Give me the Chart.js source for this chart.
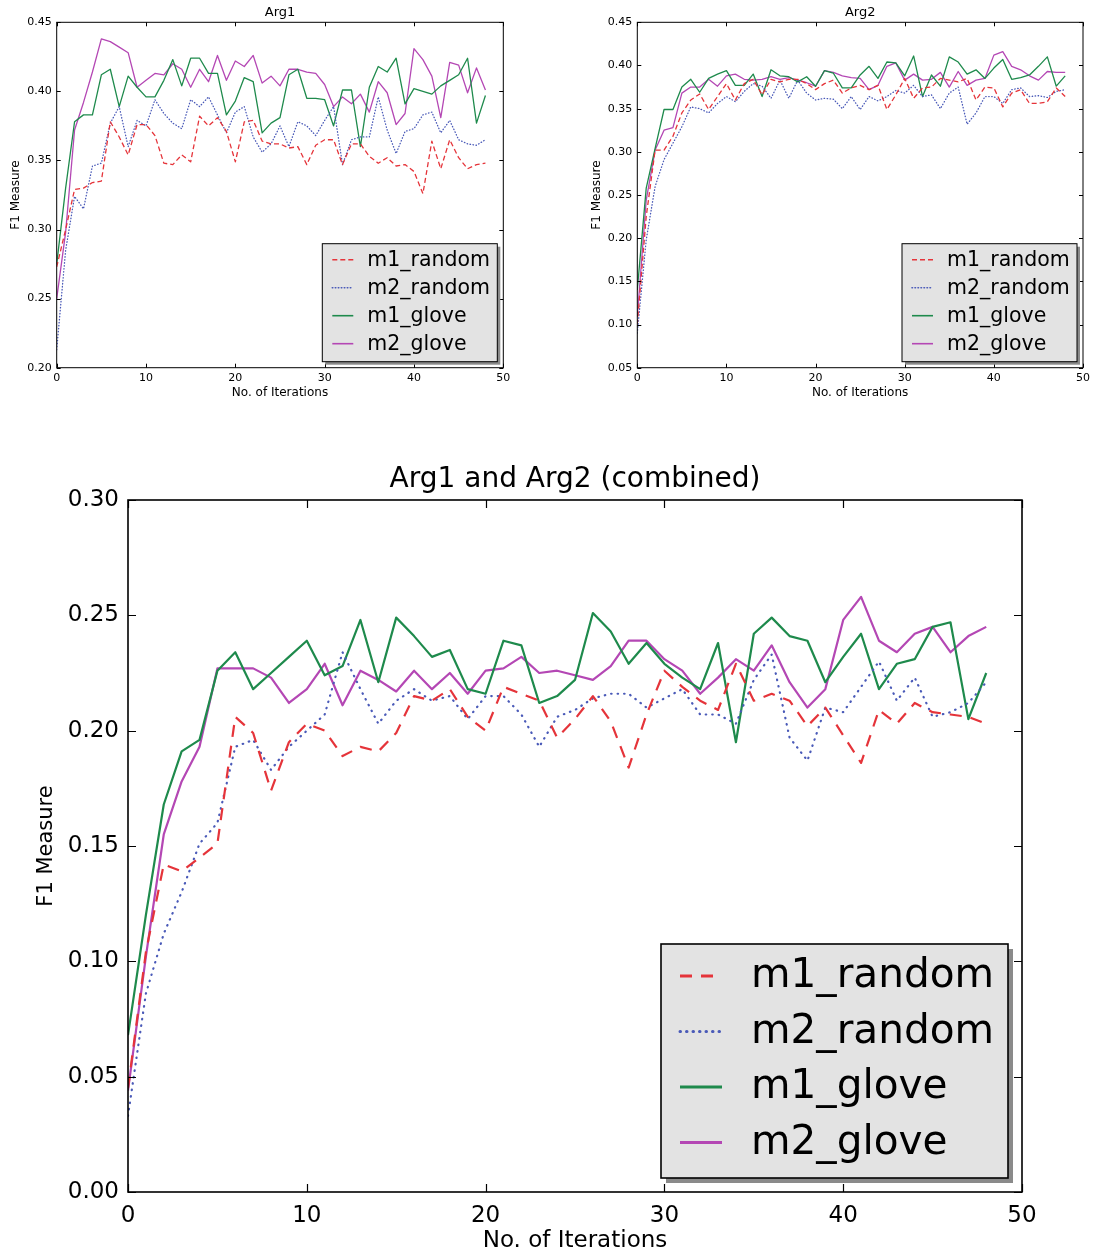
<!DOCTYPE html>
<html>
<head>
<meta charset="utf-8">
<title>F1 Measure vs. iterations</title>
<script src="https://cdn.jsdelivr.net/npm/chart.js@4.4.1/dist/chart.umd.min.js"></script>
<style>
  body { margin: 0; background: #fff; }
  .wrap { position: absolute; }
</style>
</head>
<body>
<div class="wrap" style="left:0;top:0;width:520px;height:405px"><canvas id="arg1Chart"></canvas></div>
<div class="wrap" style="left:580px;top:0;width:514px;height:405px"><canvas id="arg2Chart"></canvas></div>
<div class="wrap" style="left:0;top:440px;width:1094px;height:816px"><canvas id="combinedChart"></canvas></div>
<script>
// Data
const iterations = [0, 1, 2, 3, 4, 5, 6, 7, 8, 9, 10, 11, 12, 13, 14, 15, 16, 17, 18, 19, 20, 21, 22, 23, 24,
  25, 26, 27, 28, 29, 30, 31, 32, 33, 34, 35, 36, 37, 38, 39, 40, 41, 42, 43, 44, 45, 46, 47, 48];
const seriesNames = ['m1_random', 'm2_random', 'm1_glove', 'm2_glove'];
const xTicks = [0, 10, 20, 30, 40, 50];

// Arg1
const arg1M1Random = [0.273, 0.300, 0.329, 0.330, 0.334, 0.335, 0.378, 0.367, 0.354, 0.376, 0.376, 0.368, 0.348, 0.347, 0.354, 0.349, 0.382,
  0.375, 0.381, 0.371, 0.349, 0.378, 0.379, 0.364, 0.362, 0.362, 0.359, 0.360, 0.347, 0.361, 0.365, 0.365, 0.347,
  0.362, 0.362, 0.353, 0.348, 0.352, 0.346, 0.347, 0.342, 0.326, 0.364, 0.344, 0.365, 0.352, 0.344, 0.347, 0.348];
const arg1M2Random = [0.213, 0.285, 0.324, 0.315, 0.346, 0.348, 0.377, 0.389, 0.360, 0.379, 0.375, 0.394, 0.384, 0.377, 0.373, 0.394, 0.389,
  0.396, 0.383, 0.370, 0.385, 0.389, 0.367, 0.356, 0.362, 0.375, 0.360, 0.378, 0.375, 0.368, 0.379, 0.389, 0.347,
  0.365, 0.367, 0.367, 0.396, 0.372, 0.355, 0.371, 0.373, 0.383, 0.385, 0.370, 0.379, 0.365, 0.362, 0.361, 0.365];
const arg1M1Glove = [0.275, 0.330, 0.378, 0.383, 0.383, 0.412, 0.416, 0.389, 0.411, 0.403, 0.396, 0.396, 0.408, 0.423, 0.404, 0.424, 0.424,
  0.413, 0.413, 0.383, 0.393, 0.410, 0.407, 0.370, 0.377, 0.381, 0.412, 0.416, 0.395, 0.395, 0.394, 0.375, 0.401,
  0.401, 0.360, 0.403, 0.418, 0.414, 0.424, 0.391, 0.402, 0.400, 0.398, 0.404, 0.408, 0.412, 0.424, 0.377, 0.397];
const arg1M2Glove = [0.250, 0.298, 0.372, 0.392, 0.414, 0.438, 0.436, 0.432, 0.428, 0.403, 0.408, 0.413, 0.412, 0.420, 0.416, 0.403, 0.416,
  0.407, 0.426, 0.408, 0.422, 0.418, 0.426, 0.406, 0.411, 0.404, 0.416, 0.416, 0.414, 0.413, 0.405, 0.389, 0.396,
  0.391, 0.398, 0.385, 0.407, 0.399, 0.376, 0.384, 0.431, 0.423, 0.411, 0.381, 0.421, 0.419, 0.399, 0.417, 0.401];

// Arg2
const arg2M1Random = [0.100, 0.225, 0.302, 0.302, 0.318, 0.345, 0.360, 0.367, 0.349, 0.364, 0.379, 0.360, 0.379, 0.384, 0.366, 0.384, 0.381,
  0.384, 0.384, 0.379, 0.372, 0.379, 0.383, 0.368, 0.374, 0.377, 0.372, 0.377, 0.349, 0.366, 0.385, 0.362, 0.374,
  0.375, 0.385, 0.383, 0.381, 0.385, 0.360, 0.375, 0.374, 0.352, 0.368, 0.372, 0.356, 0.356, 0.358, 0.374, 0.364];
const arg2M2Random = [0.090, 0.198, 0.260, 0.291, 0.310, 0.329, 0.352, 0.350, 0.345, 0.356, 0.364, 0.358, 0.370, 0.379, 0.376, 0.362, 0.383,
  0.362, 0.383, 0.368, 0.360, 0.362, 0.361, 0.350, 0.364, 0.349, 0.364, 0.359, 0.364, 0.371, 0.368, 0.377, 0.364,
  0.366, 0.350, 0.368, 0.375, 0.332, 0.345, 0.364, 0.364, 0.356, 0.372, 0.374, 0.364, 0.365, 0.363, 0.370, 0.372];
const arg2M1Glove = [0.140, 0.258, 0.304, 0.349, 0.349, 0.375, 0.384, 0.369, 0.385, 0.390, 0.394, 0.377, 0.377, 0.390, 0.364, 0.395, 0.388,
  0.387, 0.381, 0.387, 0.376, 0.394, 0.391, 0.374, 0.374, 0.389, 0.399, 0.385, 0.404, 0.403, 0.388, 0.411, 0.364,
  0.389, 0.376, 0.410, 0.404, 0.390, 0.395, 0.385, 0.397, 0.407, 0.384, 0.386, 0.389, 0.399, 0.410, 0.376, 0.388];
const arg2M2Glove = [0.109, 0.244, 0.302, 0.325, 0.328, 0.368, 0.375, 0.375, 0.384, 0.376, 0.388, 0.390, 0.384, 0.383, 0.384, 0.387, 0.384,
  0.386, 0.383, 0.380, 0.376, 0.394, 0.392, 0.388, 0.386, 0.385, 0.372, 0.377, 0.399, 0.403, 0.383, 0.390, 0.383,
  0.384, 0.392, 0.375, 0.393, 0.377, 0.383, 0.385, 0.412, 0.416, 0.399, 0.395, 0.388, 0.383, 0.393, 0.392, 0.392];

// Arg1 and Arg2 (combined)
const combM1Random = [0.045, 0.104, 0.142, 0.139, 0.145, 0.151, 0.206, 0.199, 0.174, 0.195, 0.203, 0.200, 0.189, 0.193, 0.191, 0.199, 0.215,
  0.213, 0.218, 0.206, 0.200, 0.219, 0.216, 0.213, 0.197, 0.205, 0.215, 0.204, 0.184, 0.207, 0.226, 0.219, 0.213,
  0.209, 0.229, 0.213, 0.216, 0.213, 0.202, 0.210, 0.198, 0.186, 0.209, 0.203, 0.212, 0.208, 0.207, 0.206, 0.203];
const combM2Random = [0.033, 0.086, 0.112, 0.130, 0.151, 0.160, 0.193, 0.196, 0.183, 0.193, 0.200, 0.207, 0.234, 0.218, 0.203, 0.213, 0.218,
  0.213, 0.215, 0.205, 0.215, 0.215, 0.207, 0.193, 0.206, 0.209, 0.214, 0.216, 0.216, 0.210, 0.214, 0.218, 0.207,
  0.207, 0.203, 0.222, 0.233, 0.197, 0.187, 0.210, 0.208, 0.219, 0.230, 0.213, 0.223, 0.206, 0.208, 0.212, 0.221];
const combM1Glove = [0.068, 0.120, 0.168, 0.191, 0.196, 0.226, 0.234, 0.218, 0.225, 0.232, 0.239, 0.224, 0.228, 0.248, 0.221, 0.249, 0.241,
  0.232, 0.235, 0.218, 0.216, 0.239, 0.237, 0.212, 0.215, 0.222, 0.251, 0.243, 0.229, 0.238, 0.229, 0.223, 0.218,
  0.238, 0.195, 0.242, 0.249, 0.241, 0.239, 0.221, 0.232, 0.242, 0.218, 0.229, 0.231, 0.245, 0.247, 0.205, 0.225];
const combM2Glove = [0.044, 0.102, 0.155, 0.178, 0.193, 0.227, 0.227, 0.227, 0.223, 0.212, 0.218, 0.229, 0.211, 0.226, 0.222, 0.217, 0.226,
  0.218, 0.225, 0.216, 0.226, 0.227, 0.232, 0.225, 0.226, 0.224, 0.222, 0.228, 0.239, 0.239, 0.231, 0.226, 0.216,
  0.223, 0.231, 0.226, 0.237, 0.221, 0.210, 0.218, 0.248, 0.258, 0.239, 0.234, 0.242, 0.245, 0.234, 0.241, 0.245];

// Styles
const FONT = '"DejaVu Sans", "Liberation Sans", sans-serif';
const seriesColors = ['#e5343a', '#4a5ab8', '#1e8a4c', '#b447b4'];

// Matplotlib-ish frame: title over the axes, box, inward ticks on all sides, shadowed legend
const mplFrame = {
  id: 'mplFrame',
  afterDraw(chart, args, opts) {
    const { ctx, chartArea: a, scales: { x, y } } = chart;
    ctx.save();

    // title centred over the plot area (not the whole canvas)
    ctx.fillStyle = '#000';
    ctx.font = opts.titleSize + 'px ' + FONT;
    ctx.textAlign = 'center';
    ctx.textBaseline = 'middle';
    ctx.fillText(opts.title, (a.left + a.right) / 2, opts.titleY);

    ctx.strokeStyle = '#000';
    ctx.lineWidth = opts.frameWidth;
    ctx.setLineDash([]);
    ctx.strokeRect(a.left, a.top, a.right - a.left, a.bottom - a.top);

    const len = opts.tickLength;
    ctx.lineWidth = opts.tickWidth;
    ctx.beginPath();
    x.ticks.forEach(t => {
      const px = Math.round(x.getPixelForValue(t.value)) + 0.5;
      ctx.moveTo(px, a.bottom); ctx.lineTo(px, a.bottom - len);
      ctx.moveTo(px, a.top); ctx.lineTo(px, a.top + len);
    });
    y.ticks.forEach(t => {
      const py = Math.round(y.getPixelForValue(t.value)) + 0.5;
      ctx.moveTo(a.left, py); ctx.lineTo(a.left + len, py);
      ctx.moveTo(a.right, py); ctx.lineTo(a.right - len, py);
    });
    ctx.stroke();

    // legend box (lower right)
    const lg = opts.legend;
    const bx = a.right - lg.right - lg.width;
    const by = a.bottom - lg.bottom - lg.height;
    ctx.fillStyle = '#8a8a8a';
    ctx.fillRect(bx + lg.shadow, by + lg.shadow, lg.width, lg.height);
    ctx.fillStyle = '#e3e3e3';
    ctx.fillRect(bx, by, lg.width, lg.height);
    ctx.strokeStyle = '#000';
    ctx.lineWidth = opts.frameWidth;
    ctx.strokeRect(bx, by, lg.width, lg.height);

    ctx.font = lg.fontSize + 'px ' + FONT;
    ctx.textBaseline = 'alphabetic';
    ctx.textAlign = 'left';
    chart.data.datasets.forEach((ds, i) => {
      const base = by + lg.firstBaseline + i * lg.rowGap;
      const ly = base - lg.sampleRaise;
      ctx.strokeStyle = ds.borderColor;
      ctx.lineWidth = lg.lineWidth;
      ctx.lineCap = ds.borderCapStyle;
      ctx.setLineDash(ds.borderDash);
      ctx.beginPath();
      ctx.moveTo(bx + lg.sampleX, ly);
      ctx.lineTo(bx + lg.sampleX + lg.sampleLen, ly);
      ctx.stroke();
      ctx.setLineDash([]);
      ctx.fillStyle = '#000';
      ctx.fillText(ds.label, bx + lg.textX, base);
    });
    ctx.restore();
  }
};

function makeChart(id, o) {
  const dashes = [o.dash, o.dot, [], []];
  const datasets = o.values.map((vals, i) => ({
    label: seriesNames[i],
    data: iterations.map((it, k) => ({ x: it, y: vals[k] })),
    borderColor: seriesColors[i],
    borderWidth: o.lineWidth,
    borderDash: dashes[i],
    borderCapStyle: i === 1 ? 'round' : 'butt',
    borderJoinStyle: 'round',
    pointRadius: 0,
    tension: 0,
    fill: false
  }));

  return new Chart(document.getElementById(id), {
    type: 'line',
    data: { datasets: datasets },
    options: {
      responsive: true,
      maintainAspectRatio: false,
      animation: false,
      layout: { padding: o.padding },
      plugins: {
        legend: { display: false },
        tooltip: { enabled: false },
        title: { display: false },
        mplFrame: o.frame
      },
      scales: {
        x: {
          type: 'linear',
          min: 0,
          max: 50,
          afterBuildTicks: s => { s.ticks = xTicks.map(v => ({ value: v })); },
          ticks: { color: '#000', font: { family: FONT, size: o.tickSize }, padding: o.xTickPad, maxRotation: 0 },
          grid: { display: false, drawTicks: false },
          border: { display: false },
          title: {
            display: true, text: 'No. of Iterations', color: '#000',
            font: { family: FONT, size: o.labelSize }, padding: { top: 0, bottom: o.xTitlePad }
          },
          afterFit: s => { s.height = o.xHeight; }
        },
        y: {
          type: 'linear',
          min: o.yMin,
          max: o.yMax,
          afterBuildTicks: s => { s.ticks = o.yTicks.map(v => ({ value: v })); },
          ticks: { color: '#000', font: { family: FONT, size: o.tickSize }, padding: o.yTickPad, callback: v => v.toFixed(2) },
          grid: { display: false, drawTicks: false },
          border: { display: false },
          title: {
            display: true, text: 'F1 Measure', color: '#000',
            font: { family: FONT, size: o.yLabelSize }, padding: { top: o.yTitlePad, bottom: 0 }
          },
          afterFit: s => { s.width = o.yWidth; }
        }
      }
    },
    plugins: [mplFrame]
  });
}

const smallLegend = {
  width: 175, height: 118, right: 6, bottom: 6, shadow: 3,
  fontSize: 20.5, firstBaseline: 22, rowGap: 28, sampleRaise: 6,
  sampleX: 10, sampleLen: 21, textX: 45, lineWidth: 1.6
};

makeChart('arg1Chart', {
  values: [arg1M1Random, arg1M2Random, arg1M1Glove, arg1M2Glove],
  yMin: 0.2, yMax: 0.45, yTicks: [0.20, 0.25, 0.30, 0.35, 0.40, 0.45],
  lineWidth: 1.3, dash: [5, 3], dot: [0.5, 2.5],
  tickSize: 11, labelSize: 12, yLabelSize: 12,
  padding: { left: 0, right: 16.7, top: 22.3, bottom: 0 },
  yWidth: 56.7, xHeight: 37.3, xTickPad: 4, yTickPad: 5, xTitlePad: 5, yTitlePad: 9,
  frame: { title: 'Arg1', titleSize: 13, titleY: 12.5, frameWidth: 1, tickWidth: 1, tickLength: 4, legend: smallLegend }
});

makeChart('arg2Chart', {
  values: [arg2M1Random, arg2M2Random, arg2M1Glove, arg2M2Glove],
  yMin: 0.05, yMax: 0.45, yTicks: [0.05, 0.10, 0.15, 0.20, 0.25, 0.30, 0.35, 0.40, 0.45],
  lineWidth: 1.3, dash: [5, 3], dot: [0.5, 2.5],
  tickSize: 11, labelSize: 12, yLabelSize: 12,
  padding: { left: 0, right: 10.7, top: 22.3, bottom: 0 },
  yWidth: 57.3, xHeight: 37.3, xTickPad: 4, yTickPad: 5, xTitlePad: 5, yTitlePad: 10,
  frame: { title: 'Arg2', titleSize: 13, titleY: 12.5, frameWidth: 1, tickWidth: 1, tickLength: 4, legend: smallLegend }
});

makeChart('combinedChart', {
  values: [combM1Random, combM2Random, combM1Glove, combM2Glove],
  yMin: 0, yMax: 0.3, yTicks: [0.00, 0.05, 0.10, 0.15, 0.20, 0.25, 0.30],
  lineWidth: 2.2, dash: [12, 9], dot: [0.5, 6],
  tickSize: 23, labelSize: 23, yLabelSize: 21,
  padding: { left: 0, right: 72, top: 60, bottom: 0 },
  yWidth: 128, xHeight: 64, xTickPad: 10, yTickPad: 9, xTitlePad: 1.2, yTitlePad: 34,
  frame: {
    title: 'Arg1 and Arg2 (combined)', titleSize: 28, titleY: 40,
    frameWidth: 1.6, tickWidth: 1.2, tickLength: 8,
    legend: {
      width: 347, height: 234, right: 14, bottom: 14, shadow: 5,
      fontSize: 40.6, firstBaseline: 43, rowGap: 55.5, sampleRaise: 11,
      sampleX: 19, sampleLen: 42, textX: 90, lineWidth: 3
    }
  }
});
</script>
</body>
</html>
